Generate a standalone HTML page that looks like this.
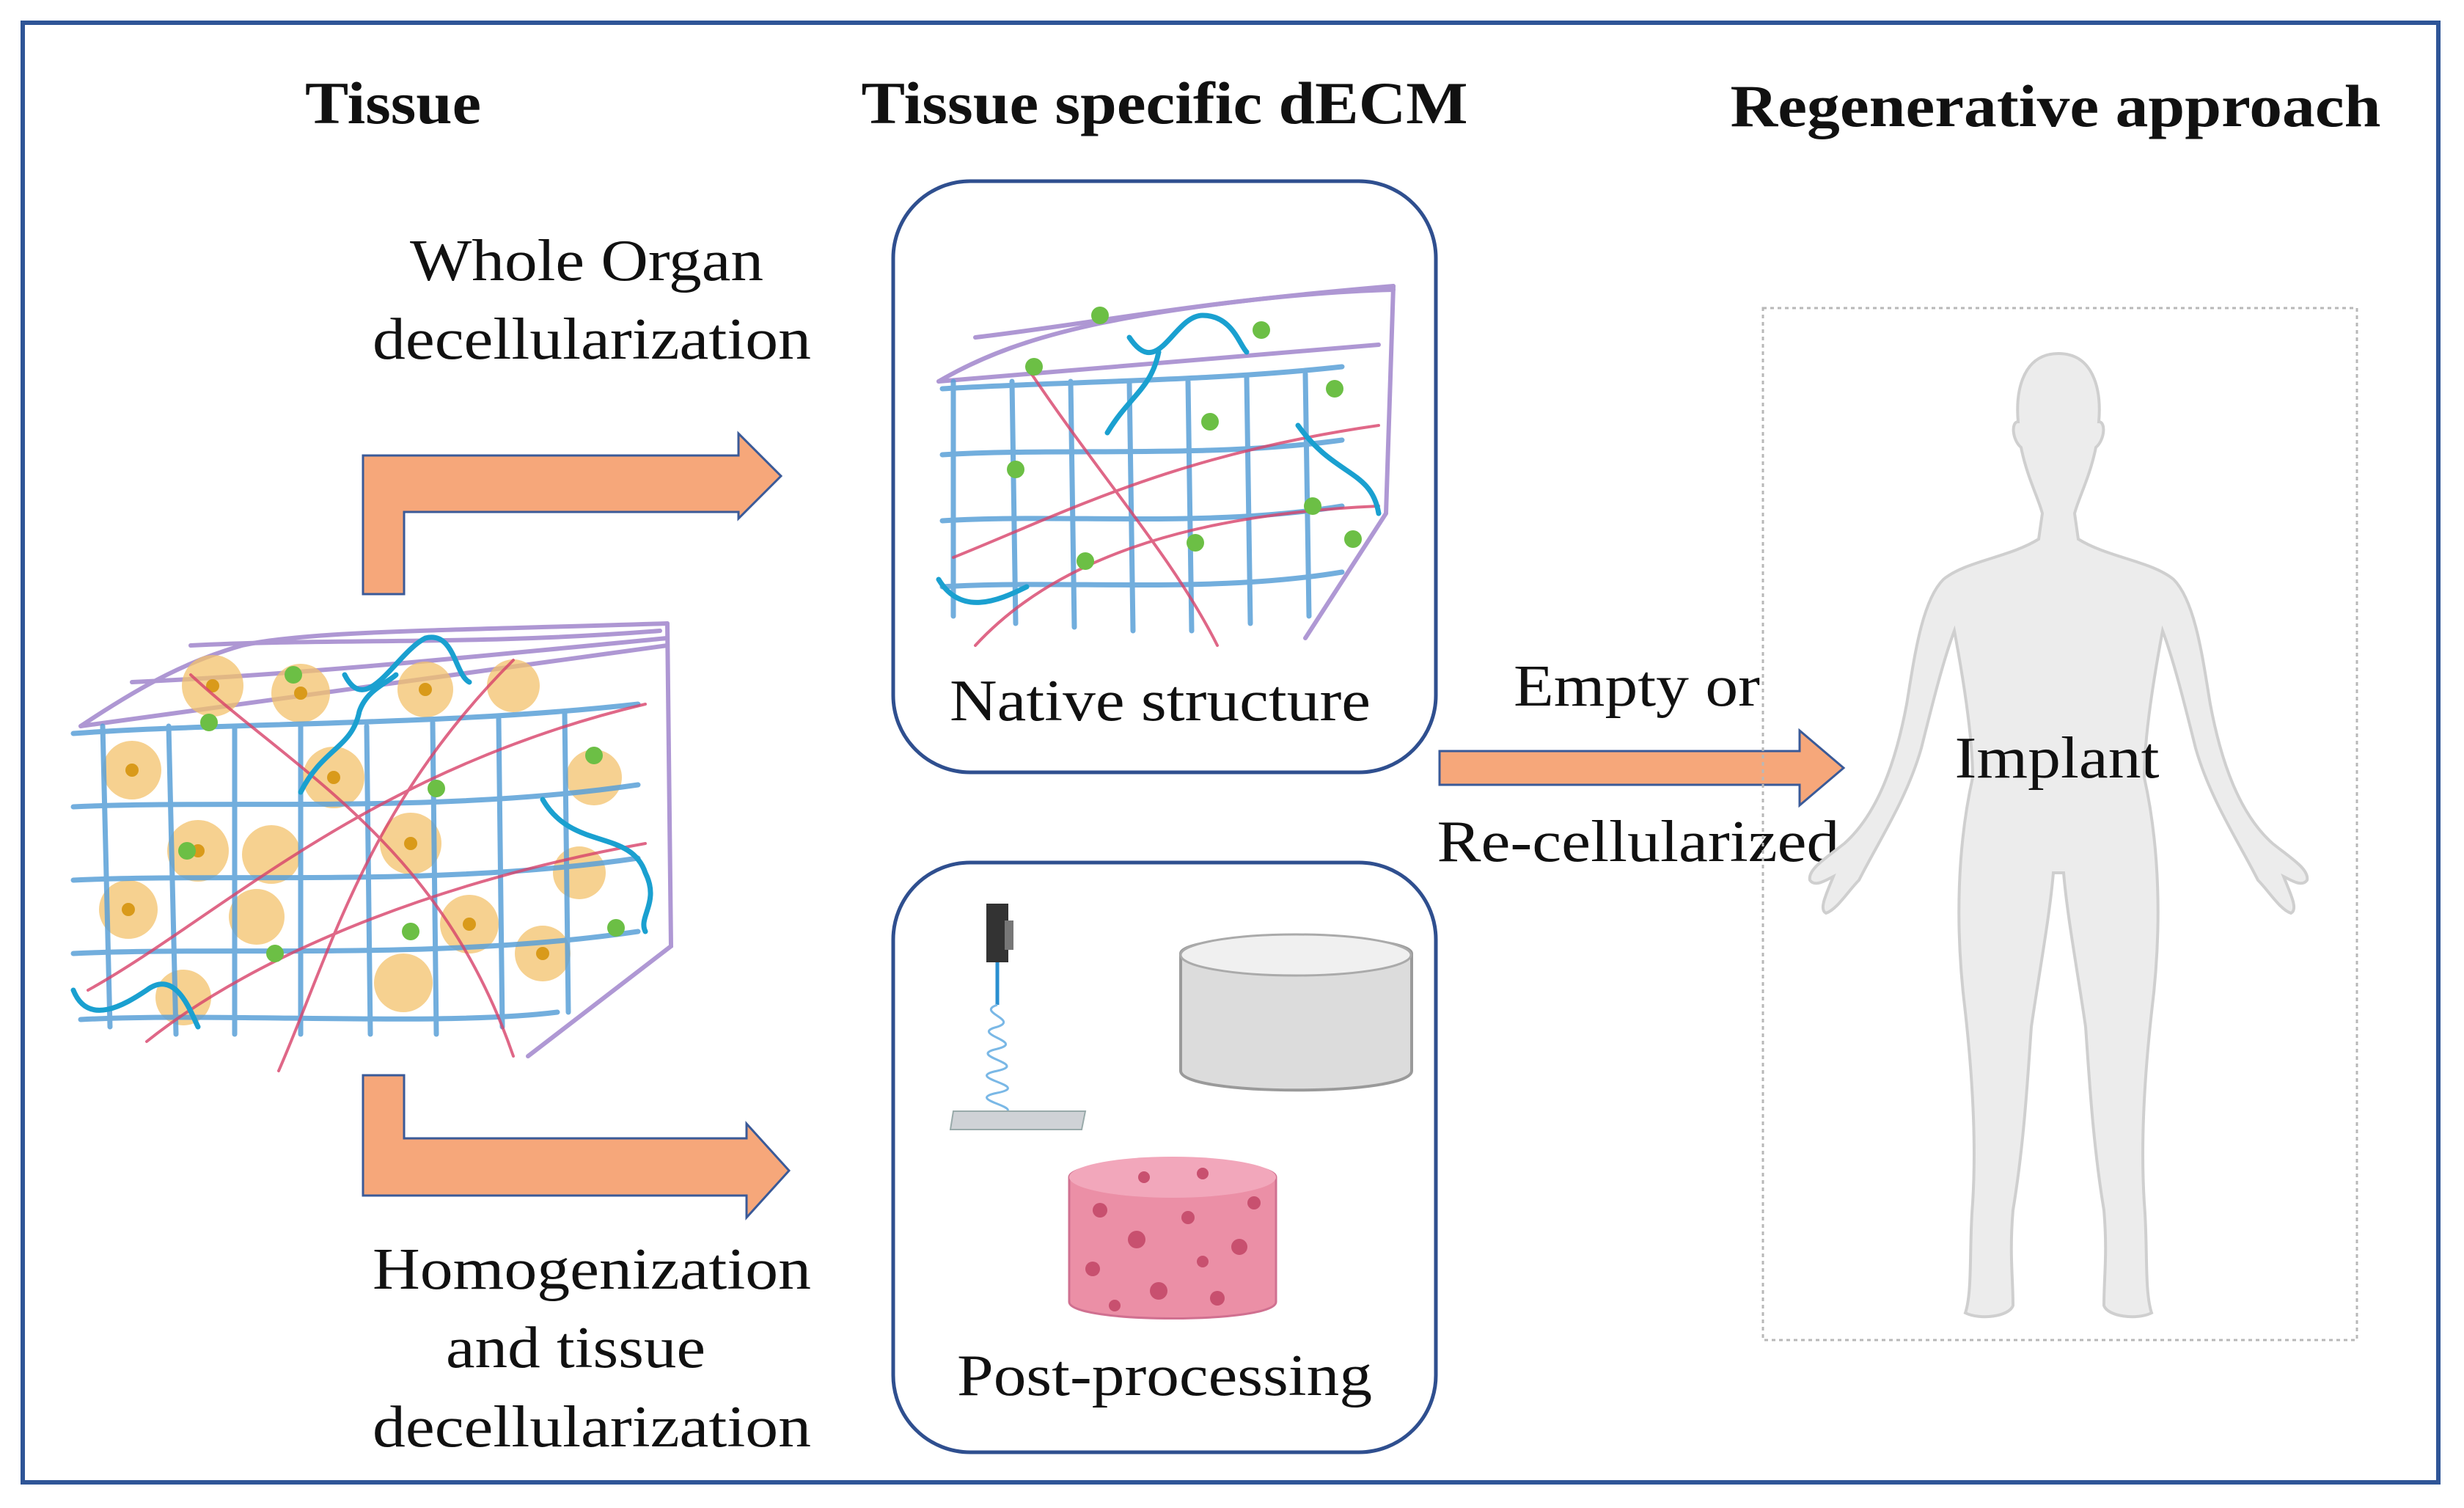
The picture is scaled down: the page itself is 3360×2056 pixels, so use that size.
<!DOCTYPE html>
<html><head><meta charset="utf-8"><style>
html,body{margin:0;padding:0;background:#fff}
svg{display:block}
text{font-family:"Liberation Serif",serif;fill:#111}
</style></head><body>
<svg width="3360" height="2056" viewBox="0 0 3360 2056" xmlns="http://www.w3.org/2000/svg">
<rect x="0" y="0" width="3360" height="2056" fill="#fff"/>
<rect x="31" y="31" width="3294" height="1990" fill="none" stroke="#2f5597" stroke-width="6"/>

<!-- headings -->
<g font-weight="bold" font-size="82" text-anchor="middle" lengthAdjust="spacingAndGlyphs">
<text x="536" y="168" textLength="240" lengthAdjust="spacingAndGlyphs">Tissue</text>
<text x="1588" y="168" textLength="827" lengthAdjust="spacingAndGlyphs">Tissue specific dECM</text>
<text x="2803" y="172" textLength="887" lengthAdjust="spacingAndGlyphs">Regenerative approach</text>
</g>

<!-- labels -->
<g font-size="80" text-anchor="middle">
<text x="800" y="382" textLength="482" lengthAdjust="spacingAndGlyphs">Whole Organ</text>
<text x="807" y="489" textLength="598" lengthAdjust="spacingAndGlyphs">decellularization</text>
<text x="1582" y="982" textLength="574" lengthAdjust="spacingAndGlyphs">Native structure</text>
<text x="1588" y="1902" textLength="566" lengthAdjust="spacingAndGlyphs">Post-processing</text>
<text x="807" y="1757" textLength="598" lengthAdjust="spacingAndGlyphs">Homogenization</text>
<text x="785" y="1864" textLength="354" lengthAdjust="spacingAndGlyphs">and tissue</text>
<text x="807" y="1972" textLength="598" lengthAdjust="spacingAndGlyphs">decellularization</text>
<text x="2232" y="962" textLength="336" lengthAdjust="spacingAndGlyphs">Empty or</text>
<text x="2234" y="1174" textLength="549" lengthAdjust="spacingAndGlyphs">Re-cellularized</text>
</g>

<!-- boxes -->
<rect x="1218" y="247" width="740" height="806" rx="105" fill="none" stroke="#2f4f8f" stroke-width="5"/>
<rect x="1218" y="1176" width="740" height="804" rx="105" fill="none" stroke="#2f4f8f" stroke-width="5"/>

<!-- arrows -->
<g fill="#f6a77a" stroke="#3a5a98" stroke-width="3">
<path d="M495 810 L495 621 L1007 621 L1007 591 L1065 649 L1007 707 L1007 698 L551 698 L551 810 Z"/>
<path d="M495 1466 L551 1466 L551 1552 L1018 1552 L1018 1532 L1076 1596 L1018 1660 L1018 1630 L495 1630 Z"/>
<path d="M1963 1024 L2454 1024 L2454 996 L2514 1047 L2454 1098 L2454 1070 L1963 1070 Z"/>
</g>

<!-- dotted rect -->
<rect x="2404" y="420" width="810" height="1407" fill="none" stroke="#b8b8b8" stroke-width="3" stroke-dasharray="5,5"/>

<!-- human -->
<g fill="#ececec" stroke="#cfcfcf" stroke-width="4">
<path d="M2807 482 C2760 482 2748 530 2752 575 C2742 575 2744 600 2756 610 C2764 650 2780 680 2785 700 L2780 735 C2740 760 2680 765 2650 790 C2620 820 2610 900 2600 960 C2585 1040 2560 1110 2515 1150 C2490 1170 2465 1185 2468 1200 C2475 1210 2490 1200 2500 1195 C2490 1220 2480 1240 2490 1245 C2505 1240 2520 1215 2535 1200 C2560 1150 2600 1090 2620 1020 C2635 960 2650 900 2665 860 C2680 940 2690 1010 2690 1060 C2670 1150 2665 1260 2680 1380 C2690 1470 2695 1560 2690 1640 C2685 1700 2690 1760 2680 1790 C2700 1800 2740 1795 2745 1780 C2745 1740 2740 1710 2745 1650 C2760 1560 2765 1470 2770 1400 C2780 1330 2795 1250 2800 1190 L2814 1190 C2819 1250 2834 1330 2844 1400 C2849 1470 2854 1560 2869 1650 C2874 1710 2869 1740 2869 1780 C2874 1795 2914 1800 2934 1790 C2924 1760 2929 1700 2924 1640 C2919 1560 2924 1470 2934 1380 C2949 1260 2944 1150 2924 1060 C2924 1010 2934 940 2949 860 C2964 900 2979 960 2994 1020 C3014 1090 3054 1150 3079 1200 C3094 1215 3109 1240 3124 1245 C3134 1240 3124 1220 3114 1195 C3124 1200 3139 1210 3146 1200 C3149 1185 3124 1170 3099 1150 C3054 1110 3029 1040 3014 960 C3004 900 2994 820 2964 790 C2934 765 2874 760 2834 735 L2829 700 C2834 680 2850 650 2858 610 C2870 600 2872 575 2862 575 C2866 530 2854 482 2807 482 Z"/>
</g>
<text x="2805" y="1060" font-size="80" text-anchor="middle" textLength="279" lengthAdjust="spacingAndGlyphs">Implant</text>

<!-- tissue cube -->
<g fill="none" stroke-linecap="round">
<g stroke="#9b7ec9" stroke-width="6" opacity="0.8">
<path d="M110 990 C200 930 260 900 330 880 C420 860 600 860 910 850"/>
<path d="M180 930 C400 920 600 900 910 870"/>
<path d="M260 880 C450 870 650 880 900 860"/>
<path d="M910 850 L915 1290 L720 1440"/>
<path d="M110 990 L910 880"/>
</g>
<g fill="#f3c26c" opacity="0.75" stroke="none">
<circle cx="290" cy="935" r="42"/><circle cx="410" cy="945" r="40"/><circle cx="580" cy="940" r="38"/><circle cx="700" cy="935" r="36"/>
<circle cx="180" cy="1050" r="40"/><circle cx="455" cy="1060" r="42"/><circle cx="810" cy="1060" r="38"/>
<circle cx="270" cy="1160" r="42"/><circle cx="370" cy="1165" r="40"/><circle cx="560" cy="1150" r="42"/><circle cx="790" cy="1190" r="36"/>
<circle cx="175" cy="1240" r="40"/><circle cx="350" cy="1250" r="38"/><circle cx="640" cy="1260" r="40"/><circle cx="740" cy="1300" r="38"/>
<circle cx="250" cy="1360" r="38"/><circle cx="550" cy="1340" r="40"/>
</g>
<g fill="#d99a1a" stroke="none">
<circle cx="290" cy="935" r="9"/><circle cx="410" cy="945" r="9"/><circle cx="580" cy="940" r="9"/><circle cx="180" cy="1050" r="9"/><circle cx="455" cy="1060" r="9"/><circle cx="270" cy="1160" r="9"/><circle cx="560" cy="1150" r="9"/><circle cx="175" cy="1240" r="9"/><circle cx="640" cy="1260" r="9"/><circle cx="740" cy="1300" r="9"/>
</g>
<g stroke="#5aa0d8" stroke-width="7" opacity="0.85">
<path d="M100 1000 C300 985 600 990 870 960"/>
<path d="M100 1100 C300 1090 600 1110 870 1070"/>
<path d="M100 1200 C300 1190 600 1210 870 1170"/>
<path d="M100 1300 C300 1290 600 1310 870 1270"/>
<path d="M110 1390 C300 1380 600 1400 760 1380"/>
<path d="M140 990 L150 1400"/><path d="M230 990 L240 1410"/><path d="M320 990 L320 1410"/><path d="M410 990 L410 1410"/><path d="M500 990 L505 1410"/><path d="M590 985 L595 1410"/><path d="M680 980 L685 1400"/><path d="M770 970 L775 1380"/>
</g>
<g stroke="#d8426a" stroke-width="4" opacity="0.8">
<path d="M120 1350 C300 1250 500 1050 880 960"/><path d="M200 1420 C350 1300 600 1200 880 1150"/><path d="M260 920 C400 1050 600 1150 700 1440"/><path d="M380 1460 C450 1300 500 1100 700 900"/>
</g>
<g stroke="#1aa0d0" stroke-width="7">
<path d="M470 920 C500 980 540 890 580 870 C620 860 620 920 640 930"/>
<path d="M410 1080 C440 1020 480 1020 490 970 C500 940 530 930 540 920"/>
<path d="M740 1090 C780 1160 860 1130 880 1190 C900 1230 870 1250 880 1270"/>
<path d="M100 1350 C120 1400 170 1370 200 1350 C240 1320 260 1380 270 1400"/>
</g>
<g fill="#6cbf45" stroke="none">
<circle cx="400" cy="920" r="12"/><circle cx="285" cy="985" r="12"/><circle cx="255" cy="1160" r="12"/><circle cx="595" cy="1075" r="12"/><circle cx="375" cy="1300" r="12"/><circle cx="560" cy="1270" r="12"/><circle cx="840" cy="1265" r="12"/><circle cx="810" cy="1030" r="12"/>
</g>
</g>

<!-- native cube -->
<g fill="none" stroke-linecap="round">
<g stroke="#9b7ec9" stroke-width="6" opacity="0.8">
<path d="M1280 520 C1400 450 1550 420 1900 390"/><path d="M1330 460 C1500 440 1700 400 1900 395"/><path d="M1900 390 L1890 700 L1780 870"/><path d="M1280 520 L1880 470"/>
</g>
<g stroke="#5aa0d8" stroke-width="7" opacity="0.85">
<path d="M1285 530 C1450 520 1650 520 1830 500"/><path d="M1285 620 C1450 610 1650 625 1830 600"/><path d="M1285 710 C1450 700 1650 720 1830 690"/><path d="M1285 800 C1450 790 1650 810 1830 780"/>
<path d="M1300 520 L1300 840"/><path d="M1380 520 L1385 850"/><path d="M1460 520 L1465 855"/><path d="M1540 520 L1545 860"/><path d="M1620 520 L1625 860"/><path d="M1700 515 L1705 850"/><path d="M1780 510 L1785 840"/>
</g>
<g stroke="#d8426a" stroke-width="4" opacity="0.8">
<path d="M1300 760 C1450 700 1600 620 1880 580"/><path d="M1330 880 C1450 750 1650 700 1880 690"/><path d="M1400 500 C1500 650 1600 760 1660 880"/>
</g>
<g stroke="#1aa0d0" stroke-width="7">
<path d="M1540 460 C1580 520 1600 430 1640 430 C1680 430 1690 470 1700 480"/>
<path d="M1510 590 C1540 540 1570 530 1580 480"/>
<path d="M1770 580 C1820 650 1870 640 1880 700"/>
<path d="M1280 790 C1310 840 1360 820 1400 800"/>
</g>
<g fill="#6cbf45" stroke="none">
<circle cx="1500" cy="430" r="12"/><circle cx="1410" cy="500" r="12"/><circle cx="1720" cy="450" r="12"/><circle cx="1385" cy="640" r="12"/><circle cx="1650" cy="575" r="12"/><circle cx="1820" cy="530" r="12"/><circle cx="1790" cy="690" r="12"/><circle cx="1630" cy="740" r="12"/><circle cx="1480" cy="765" r="12"/><circle cx="1845" cy="735" r="12"/>
</g>
</g>

<!-- post-processing graphics -->
<rect x="1345" y="1232" width="30" height="80" fill="#333"/>
<rect x="1370" y="1255" width="12" height="40" fill="#777"/>
<line x1="1360" y1="1312" x2="1360" y2="1370" stroke="#2a8fd0" stroke-width="5"/>
<path d="M1360 1370 C1330 1380 1390 1390 1360 1400 C1320 1410 1400 1420 1360 1430 C1315 1440 1405 1450 1360 1460 C1310 1470 1410 1480 1360 1490 C1310 1500 1410 1510 1360 1520" fill="none" stroke="#7ab8e6" stroke-width="3"/>
<path d="M1300 1515 L1480 1515 L1475 1540 L1296 1540 Z" fill="#cfd2d6" stroke="#9aa" stroke-width="2"/>
<path d="M1610 1300 C1610 1270 1925 1270 1925 1300 L1925 1460 C1925 1495 1610 1495 1610 1460 Z" fill="#dcdcdc" stroke="#9a9a9a" stroke-width="4"/>
<ellipse cx="1767" cy="1302" rx="157" ry="28" fill="#f0f0f0" stroke="#aaa" stroke-width="3"/>
<path d="M1458 1605 C1458 1575 1740 1575 1740 1605 L1740 1775 C1740 1805 1458 1805 1458 1775 Z" fill="#eb8fa6" stroke="#d07090" stroke-width="3"/>
<ellipse cx="1599" cy="1605" rx="141" ry="28" fill="#f2a7bb"/>
<g fill="#c8506f">
<circle cx="1500" cy="1650" r="10"/><circle cx="1550" cy="1690" r="12"/><circle cx="1620" cy="1660" r="9"/><circle cx="1690" cy="1700" r="11"/><circle cx="1490" cy="1730" r="10"/><circle cx="1580" cy="1760" r="12"/><circle cx="1660" cy="1770" r="10"/><circle cx="1710" cy="1640" r="9"/><circle cx="1640" cy="1720" r="8"/><circle cx="1520" cy="1780" r="8"/><circle cx="1560" cy="1605" r="8"/><circle cx="1640" cy="1600" r="8"/>
</g>
</svg>
</body></html>
